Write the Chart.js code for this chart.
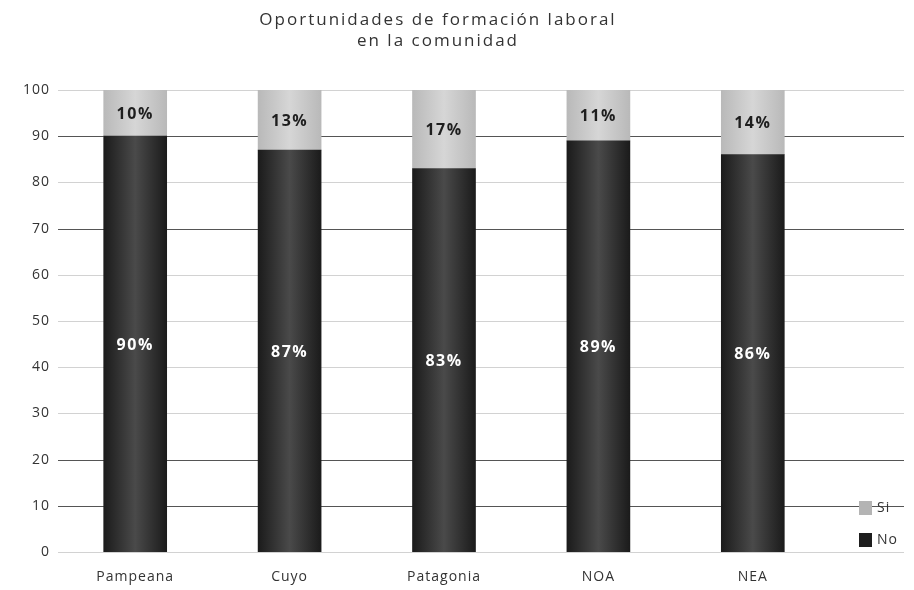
<!DOCTYPE html>
<html lang="es">
<head>
<meta charset="utf-8">
<title>Oportunidades de formación laboral en la comunidad</title>
<script src="https://cdn.jsdelivr.net/npm/chart.js@4/dist/chart.umd.min.js"></script>
<style>
  html, body { margin: 0; padding: 0; background: #fff; }
  #wrap { width: 914px; height: 590px; position: relative; }
</style>
</head>
<body>
<div id="wrap"><canvas id="grafico"></canvas></div>
<script>
// Datos por región
const regiones = ['Pampeana', 'Cuyo', 'Patagonia', 'NOA', 'NEA'];
const valoresNo = [90, 87, 83, 89, 86];
const valoresSi = [10, 13, 17, 11, 14];
const ticksY = [0, 10, 20, 30, 40, 50, 60, 70, 80, 90, 100];
const titulo = ['Oportunidades de formación laboral', 'en la comunidad'];

const FUENTE = "'Open Sans', 'Noto Sans', sans-serif";
const ANCHO_BARRA = 63;
// líneas de la grilla que se ven más marcadas
const lineasFuertes = [90, 70, 20, 10];

// degradado horizontal tipo "cilindro" para cada barra
function degradado(bordes, centro) {
  return (ctx) => {
    const chart = ctx.chart;
    const x = chart.scales.x;
    if (!chart.chartArea || !x || ctx.dataIndex === undefined) return bordes;
    const cx = x.getPixelForValue(ctx.dataIndex);
    const g = chart.ctx.createLinearGradient(cx - ANCHO_BARRA / 2, 0, cx + ANCHO_BARRA / 2, 0);
    g.addColorStop(0, bordes);
    g.addColorStop(0.5, centro);
    g.addColorStop(1, bordes);
    return g;
  };
}

// título, grilla extendida, etiquetas y leyenda
const extras = {
  id: 'extras',
  beforeDraw(chart) {
    // texto algo más espaciado en todo el gráfico
    chart.ctx.letterSpacing = '1px';
  },
  beforeDatasetsDraw(chart) {
    const { ctx, chartArea, scales } = chart;
    ctx.save();
    ticksY.forEach(v => {
      const y = Math.round(scales.y.getPixelForValue(v)) + 0.5;
      ctx.strokeStyle = lineasFuertes.includes(v) ? '#555' : '#d2d2d2';
      ctx.lineWidth = 1.2;
      ctx.beginPath();
      ctx.moveTo(chartArea.left, y);
      ctx.lineTo(chart.width - 10, y);
      ctx.stroke();
    });
    ctx.restore();
  },
  afterDraw(chart) {
    const { ctx } = chart;
    ctx.save();
    // título
    ctx.fillStyle = '#333';
    ctx.font = '17px ' + FUENTE;
    ctx.letterSpacing = '2px';
    ctx.textAlign = 'center';
    ctx.textBaseline = 'middle';
    titulo.forEach((t, i) => ctx.fillText(t, 438, 20 + i * 21));

    // porcentajes dentro de cada segmento
    ctx.font = 'bold 16px ' + FUENTE;
    ctx.letterSpacing = '1.5px';
    chart.data.datasets.forEach((ds, di) => {
      chart.getDatasetMeta(di).data.forEach((bar, i) => {
        const p = bar.getCenterPoint();
        ctx.fillStyle = di === 0 ? '#ffffff' : '#1e1e1e';
        ctx.fillText(ds.data[i] + '%', p.x, p.y + 1);
      });
    });

    // leyenda
    const items = [
      { texto: 'Si', color: '#b4b4b4' },
      { texto: 'No', color: '#1e1e1e' }
    ];
    ctx.font = '14px ' + FUENTE;
    ctx.letterSpacing = '1px';
    ctx.textAlign = 'left';
    items.forEach((it, i) => {
      const y = 508 + i * 32;
      ctx.fillStyle = it.color;
      ctx.fillRect(859, y - 7, 13, 14);
      ctx.fillStyle = '#333';
      ctx.fillText(it.texto, 877, y);
    });
    ctx.restore();
    ctx.letterSpacing = '0px';
  }
};

new Chart(document.getElementById('grafico'), {
  type: 'bar',
  data: {
    labels: regiones,
    datasets: [
      {
        label: 'No',
        data: valoresNo,
        backgroundColor: degradado('#1b1b1b', '#4a4a4a'),
        borderWidth: 0,
        barThickness: ANCHO_BARRA
      },
      {
        label: 'Si',
        data: valoresSi,
        backgroundColor: degradado('#b9b9b9', '#d6d6d6'),
        borderWidth: 0,
        barThickness: ANCHO_BARRA
      }
    ]
  },
  options: {
    responsive: true,
    maintainAspectRatio: false,
    animation: false,
    layout: { padding: { top: 90, right: 84, left: 0, bottom: 0 } },
    plugins: {
      legend: { display: false },
      title: { display: false },
      tooltip: { enabled: false }
    },
    scales: {
      x: {
        stacked: true,
        grid: { display: false, drawTicks: false },
        border: { display: false },
        ticks: { color: '#333', font: { family: FUENTE, size: 14 }, padding: 17 },
        afterFit(scale) { scale.height = 38; }
      },
      y: {
        stacked: true,
        min: 0,
        max: 100,
        grid: { display: false, drawTicks: false },
        border: { display: false },
        ticks: {
          stepSize: 10,
          color: '#333',
          font: { family: FUENTE, size: 14 },
          padding: 8
        },
        afterFit(scale) { scale.width = 58; }
      }
    }
  },
  plugins: [extras]
});
</script>
</body>
</html>
